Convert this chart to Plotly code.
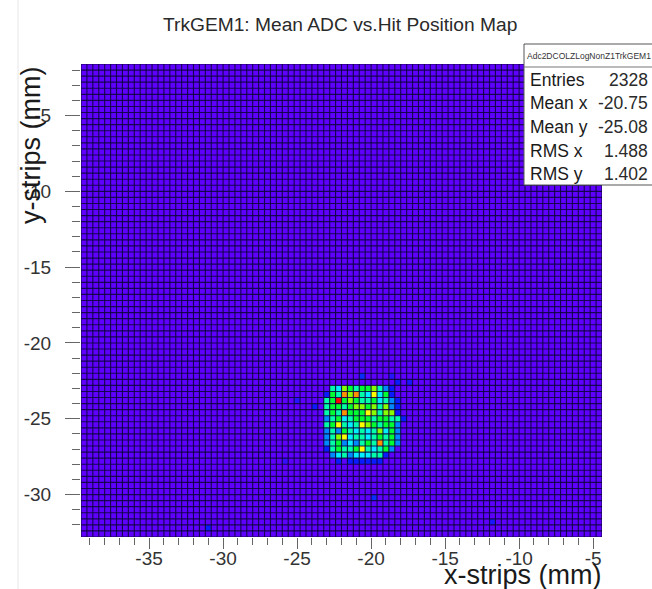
import numpy as np
import plotly.graph_objects as go

W, H = 652, 589
L, R, T, B = 81, 602, 64, 537

X_MIN, X_BINS, Y_MIN, Y_BINS, BIN = -39.6, 88, -32.8, 78, 0.4
FIRST_COL, TOP_ROW = 41, 24

v, b, c, t, s, g, l, y, o, r = 0, .12, .24, .36, .46, .56, .66, .76, .88, 1
blob_rows = [
    [v, s, t, l, g, s, g, g, l, s, c, b, v, v],
    [b, g, s, o, l, o, s, t, y, t, g, b, v, v],
    [s, g, r, g, l, g, s, s, g, t, s, c, b, v],
    [s, g, g, s, g, l, l, g, l, s, l, c, b, v],
    [s, g, s, o, g, g, g, y, l, s, l, l, b, v],
    [c, s, g, t, s, g, g, g, s, g, g, s, s, b],
    [s, g, y, s, t, s, y, l, g, s, g, g, c, v],
    [c, s, c, g, s, t, s, t, s, l, t, g, c, v],
    [c, s, l, y, t, s, s, t, s, g, s, g, c, v],
    [c, s, g, c, t, c, s, g, s, o, s, g, c, v],
    [b, s, g, s, s, g, y, s, t, s, g, c, v, v],
    [v, c, t, s, c, t, t, t, s, s, b, v, v, v],
    [v, v, b, v, b, b, b, b, b, b, v, v, v, v],
]
stray_cols = [47, 39, 55, 36, 49, 21, 69, 34, 53, 52]
stray_rows = [26, 21, 25, 22, 6, 1, 2, 12, 25, 26]
stray_vals = [.14, .12, .10, .08, .14, .12, .10, .06, .12, .08]

xtick_vals = [-35, -30, -25, -20, -15, -10, -5]
ytick_vals = [-5, -10, -15, -20, -25, -30]
stats_labels = ["Entries", "Mean x", "Mean y", "RMS x", "RMS y"]
stats_values = ["2328", "-20.75", "-25.08", "1.488", "1.402"]
stats_name = "Adc2DCOLZLogNonZ1TrkGEM1"
title_text = "TrkGEM1: Mean ADC vs.Hit Position Map"

z = np.zeros((Y_BINS, X_BINS))
for i, row in enumerate(blob_rows):
    for k, val in enumerate(row):
        z[TOP_ROW - i, FIRST_COL + k] = val
for cx, cy, val in zip(stray_cols, stray_rows, stray_vals):
    z[cy, cx] = val
x = X_MIN + BIN * (np.arange(X_BINS) + .5)
yy = Y_MIN + BIN * (np.arange(Y_BINS) + .5)
x_edges = X_MIN + BIN * np.arange(X_BINS + 1)
y_edges = Y_MIN + BIN * np.arange(Y_BINS + 1)

scale = [[0, "#5f00ff"], [.12, "#0a1cff"], [.24, "#0088ff"], [.36, "#00eeff"],
         [.46, "#00ffa8"], [.56, "#00ff30"], [.66, "#88ff00"], [.76, "#ffff00"],
         [.88, "#ff9000"], [1, "#ff0000"]]

fig = go.Figure(go.Heatmap(x=x, y=yy, z=z, zmin=0, zmax=1, colorscale=scale, showscale=False))

grid_x, grid_y = [], []
for e in x_edges:
    grid_x += [e, e, None]
    grid_y += [y_edges[0], y_edges[-1], None]
for e in y_edges:
    grid_x += [x_edges[0], x_edges[-1], None]
    grid_y += [e, e, None]
fig.add_trace(go.Scatter(x=grid_x, y=grid_y, mode="lines", hoverinfo="skip", showlegend=False,
                         line=dict(color="rgba(15,5,60,0.88)", width=1.15)))


def px(a):
    return (a - L) / (R - L)


def py(a):
    return (B - a) / (B - T)


def note(text, ax, ay, size, xanchor="center", angle=0, color="#1a1a1a"):
    fig.add_annotation(text=text, x=px(ax), y=py(ay), xref="paper", yref="paper",
                       showarrow=False, xanchor=xanchor, yanchor="middle", textangle=angle,
                       borderpad=0, borderwidth=0,
                       font=dict(size=size, color=color, family="Liberation Sans"))


fig.add_shape(type="line", xref="paper", yref="paper", x0=px(18), x1=px(18), y0=py(0), y1=py(H),
              line=dict(color="#e6e6e6", width=1), layer="below")
fig.add_shape(type="rect", xref="paper", yref="paper", x0=px(524), x1=px(656), y0=py(44), y1=py(185),
              line=dict(color="#555555", width=1), fillcolor="white", layer="above")
fig.add_shape(type="line", xref="paper", yref="paper", x0=px(524), x1=px(656), y0=py(67), y1=py(67),
              line=dict(color="#777777", width=1), layer="above")

note(title_text, 340, 25, 19.2, color="#2a2a2a")
note(stats_name, 588.5, 56, 8.5, color="#333333")
for lab, val, ay in zip(stats_labels, stats_values, [80, 103, 127, 151, 174]):
    note(lab, 530, ay, 17.5, xanchor="left")
    note(val, 648, ay, 17.5, xanchor="right", color="#2a2a2a")
note("y-strips (mm)", 31, 146, 27, angle=-90)
note("x-strips (mm)", 522, 575, 27)

tick_font = dict(size=19, color="#333333", family="Liberation Sans")
fig.update_layout(
    width=W, height=H, margin=dict(l=L, r=W - R, t=T, b=H - B),
    paper_bgcolor="white", plot_bgcolor="white", showlegend=False,
    xaxis=dict(range=[X_MIN, X_MIN + X_BINS * BIN], tickvals=xtick_vals, ticktext=[str(a) for a in xtick_vals],
               ticks="outside", ticklen=11, tickcolor="#666666", tickwidth=1, tickfont=tick_font,
               ticklabelstandoff=-7, showgrid=False, zeroline=False, showline=False,
               minor=dict(dtick=1, tick0=0, ticks="outside", ticklen=7, tickcolor="#666666", tickwidth=1, showgrid=False)),
    yaxis=dict(range=[Y_MIN, Y_MIN + Y_BINS * BIN], tickvals=ytick_vals, ticktext=[str(a) for a in ytick_vals],
               ticks="outside", ticklen=15, tickcolor="#666666", tickwidth=1, tickfont=tick_font,
               ticklabelstandoff=10, showgrid=False, zeroline=False, showline=False,
               minor=dict(dtick=1, tick0=0, ticks="outside", ticklen=8, tickcolor="#666666", tickwidth=1, showgrid=False)),
)
fig.write_html("out.html", config={"displayModeBar": False},
               post_script="document.body.style.margin='0';document.body.style.overflow='hidden';")
